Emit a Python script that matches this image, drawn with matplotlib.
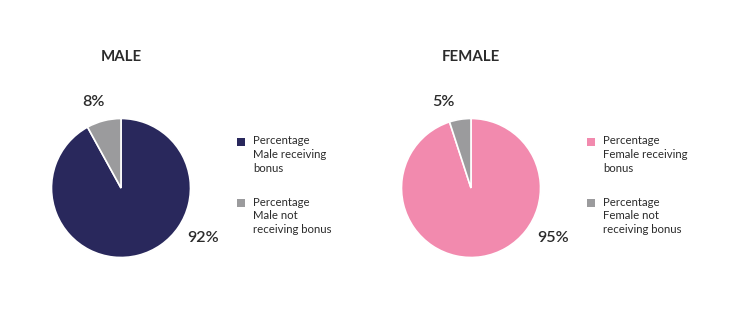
import matplotlib
matplotlib.use('Agg')
import matplotlib.pyplot as plt
from matplotlib.patches import Rectangle

plt.rcParams['font.family'] = ['Lato', 'DejaVu Sans']

# data
groups = ['MALE', 'FEMALE']
receiving = [92, 95]
not_receiving = [8, 5]
main_colors = ['#29285c', '#f28aae']
grey = '#9b9b9d'
legend_labels = [
    ['Percentage\nMale receiving\nbonus', 'Percentage\nMale not\nreceiving bonus'],
    ['Percentage\nFemale receiving\nbonus', 'Percentage\nFemale not\nreceiving bonus'],
]
text_col = '#2b2b2b'

W, H = 750, 311
fig = plt.figure(figsize=(7.5, 3.11), dpi=100)
fig.patch.set_facecolor('white')

centers = [(121, 188), (471, 188)]
r = 69.5

for i, g in enumerate(groups):
    cx, cy = centers[i]
    ax = fig.add_axes([(cx - r) / W, 1 - (cy + r) / H, 2 * r / W, 2 * r / H])
    vals = [receiving[i], not_receiving[i]]
    ax.pie(vals, colors=[main_colors[i], grey], startangle=90, counterclock=False,
           radius=1, wedgeprops=dict(edgecolor='white', linewidth=1.2))
    ax.set_xlim(-1, 1)
    ax.set_ylim(-1, 1)
    ax.set_aspect('auto')
    ax.axis('off')

    # title
    fig.text(cx / W, 1 - 57 / H, g, ha='center', va='center', fontsize=10.8,
             fontweight='bold', color=text_col)
    # percent labels
    fig.text((cx - 28) / W, 1 - 102 / H, f'{not_receiving[i]}%', ha='center', va='center',
             fontsize=11.6, fontweight='semibold', color=text_col)
    fig.text((cx + 82) / W, 1 - 238 / H, f'{receiving[i]}%', ha='center', va='center',
             fontsize=11.6, fontweight='semibold', color=text_col)

    # legend
    lx = cx + 116
    for j, (lab, col) in enumerate(zip(legend_labels[i], [main_colors[i], grey])):
        ty = 142 + 61 * j
        fig.patches.append(Rectangle((lx / W, 1 - (ty + 4) / H), 8 / W, 8 / H,
                                     transform=fig.transFigure, facecolor=col,
                                     edgecolor='none'))
        fig.text((lx + 16) / W, 1 - (ty - 6.5) / H, lab, ha='left', va='top',
                 fontsize=8.2, color=text_col, linespacing=1.3)

fig.savefig('out.png', dpi=100, facecolor='white')
